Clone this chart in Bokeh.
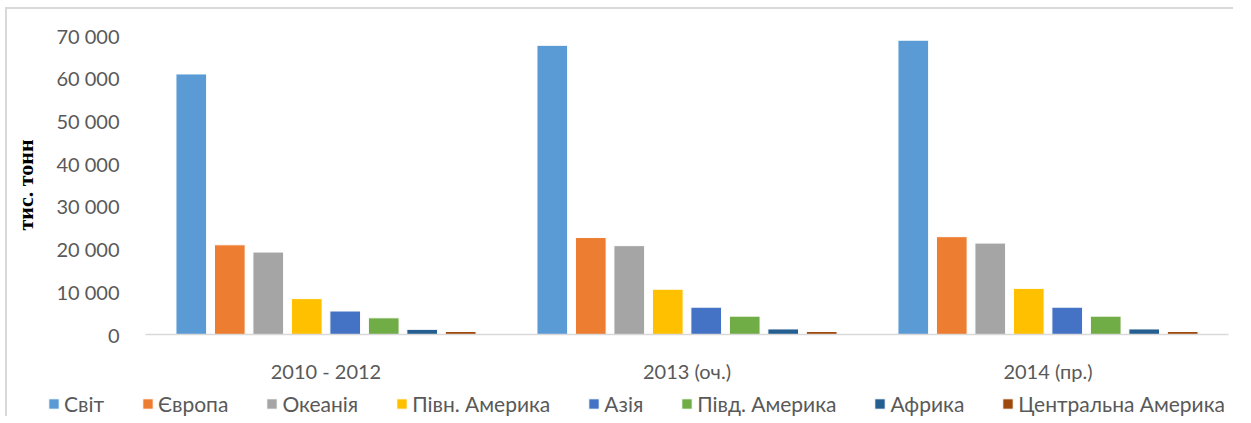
from bokeh.plotting import figure
from bokeh.models import (FactorRange, Range1d, FixedTicker, ColumnDataSource,
                          Legend, LegendItem)
from bokeh.transform import dodge
from bokeh.embed import file_html
from bokeh.resources import INLINE

categories = ["2010 - 2012", "2013 (оч.)", "2014 (пр.)"]
regions = ["Світ", "Європа", "Океанія", "Півн. Америка", "Азія",
           "Півд. Америка", "Африка", "Центральна Америка"]
svit = [61000, 67700, 68900]
yevropa = [21000, 22700, 22900]
okeaniya = [19300, 20800, 21400]
pivn_amer = [8400, 10600, 10800]
aziya = [5500, 6400, 6400]
pivd_amer = [3900, 4300, 4300]
afryka = [1200, 1300, 1300]
tsentr_amer = [700, 700, 700]
y_ticks = [0, 10000, 20000, 30000, 40000, 50000, 60000, 70000]
y_tick_labels = ["0", "10 000", "20 000", "30 000", "40 000", "50 000", "60 000", "70 000"]
y_title = "тис. тонн"

series = [svit, yevropa, okeaniya, pivn_amer, aziya, pivd_amer, afryka, tsentr_amer]
colors = ["#5B9BD5", "#ED7D31", "#A5A5A5", "#FFC000", "#4472C4",
          "#70AD47", "#255E91", "#9E480E"]

FONT = "Lato"
GREY = "#595959"
BORDER = "2px solid #D9D9D9"
W = 1228

p = figure(width=W, height=382, output_backend="svg", toolbar_location=None,
           x_range=FactorRange(factors=categories, range_padding=0),
           y_range=Range1d(0, 70000),
           min_border_left=138, min_border_right=7,
           min_border_top=26, min_border_bottom=57)
p.outline_line_color = None
p.xgrid.grid_line_color = None
p.ygrid.grid_line_color = None

data = {"cat": categories}
for i, s in enumerate(series):
    data["s%d" % i] = s
src = ColumnDataSource(data)

pitch = 0.1066
for i, name in enumerate(regions):
    p.vbar(x=dodge("cat", (i - 3.5) * pitch, range=p.x_range), top="s%d" % i,
           width=0.085, source=src, fill_color=colors[i], line_color="white",
           line_width=1)

yax = p.yaxis[0]
yax.ticker = FixedTicker(ticks=y_ticks)
yax.major_label_overrides = {t: l for t, l in zip(y_ticks, y_tick_labels)}
yax.axis_line_color = None
yax.major_tick_line_color = None
yax.minor_tick_line_color = None
yax.major_label_standoff = 20
yax.major_label_text_font = FONT
yax.major_label_text_font_size = "20px"
yax.major_label_text_color = GREY
yax.axis_label = y_title
yax.axis_label_text_font = "Liberation Serif"
yax.axis_label_text_font_style = "bold"
yax.axis_label_text_font_size = "22px"
yax.axis_label_text_color = "black"
yax.axis_label_standoff = 15

xax = p.xaxis[0]
xax.axis_line_color = "#D9D9D9"
xax.axis_line_width = 1.5
xax.major_tick_line_color = None
xax.minor_tick_line_color = None
xax.major_label_standoff = 18
xax.major_label_text_font = FONT
xax.major_label_text_font_size = "20px"
xax.major_label_text_color = GREY

p.styles = {"border-left": BORDER, "border-top": BORDER,
            "margin-left": "5px", "margin-top": "7px"}

# legend strip below the chart (separate root so it is not frame-aligned)
lf = figure(width=W, height=27, output_backend="svg", toolbar_location=None,
            x_axis_location=None, y_axis_location=None,
            x_range=Range1d(0, 1), y_range=Range1d(0, 1),
            min_border_left=0, min_border_right=0,
            min_border_top=0, min_border_bottom=0)
lf.outline_line_color = None
lf.xgrid.grid_line_color = None
lf.ygrid.grid_line_color = None
items = []
for i, name in enumerate(regions):
    # invisible legend proxy (outside the strip's range)
    r = lf.vbar(x=[-5], top=[0], width=0.1, fill_color=colors[i], line_color="white")
    items.append(LegendItem(label=name, renderers=[r]))

lg = Legend(items=items, orientation="horizontal", location=(40, 0))
lg.background_fill_alpha = 0
lg.border_line_alpha = 0
lg.padding = 0
lg.margin = 0
lg.spacing = 37
lg.glyph_width = 13
lg.glyph_height = 13
lg.label_standoff = 4
lg.label_height = 20
lg.label_text_font = FONT
lg.label_text_font_size = "21px"
lg.label_text_color = GREY
lf.add_layout(lg, "center")
lf.styles = {"border-left": BORDER, "margin-left": "5px"}

open("out.html", "w").write(file_html([p, lf], INLINE))
